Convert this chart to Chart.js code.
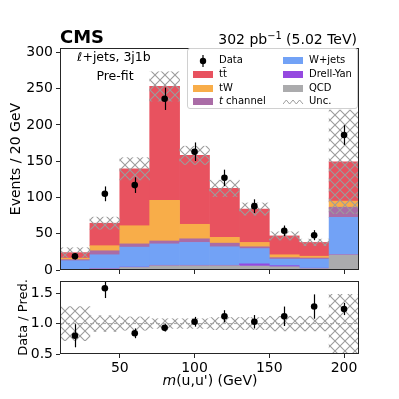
<!DOCTYPE html>
<html>
<head>
<meta charset="utf-8">
<script src="https://cdn.jsdelivr.net/npm/chart.js@4.4.0/dist/chart.umd.min.js"></script>
<style>
body { margin: 0; background: #fff; font-family: "DejaVu Sans", sans-serif; }
#wrap { position: relative; width: 399px; height: 399px; overflow: hidden; }
canvas { position: absolute; left: 0; }
.txt { position: absolute; white-space: nowrap; line-height: 1; color: #000; }
#legend { position: absolute; left: 187px; top: 48px; width: 171px; height: 61px;
  border: 1px solid #d0d0d0; border-radius: 3px; background: rgba(255,255,255,0.8); box-sizing: border-box; }
.lg { position: absolute; font-size: 10px; line-height: 1; white-space: nowrap; }
.patch { position: absolute; width: 20px; height: 7px; }
</style>
</head>
<body>
<div id="wrap">
  <canvas id="topChart" width="399" height="276" style="top:0"></canvas>
  <canvas id="botChart" width="399" height="123" style="top:276px"></canvas>

  <div class="txt" style="left:60px;top:28px;font-size:18px;font-weight:bold;">CMS</div>
  <div class="txt" style="right:42px;top:32px;font-size:14px;">302 pb<sup style="font-size:0.7em;vertical-align:0.55em;line-height:0">−1</sup> (5.02 TeV)</div>
  <div class="txt" style="left:64px;width:100px;text-align:center;top:51px;font-size:12.5px;">ℓ+jets, 3j1b</div>
  <div class="txt" style="left:65px;width:100px;text-align:center;top:69.5px;font-size:12.5px;">Pre-fit</div>
  <div class="txt" style="left:110px;width:200px;text-align:center;top:373px;font-size:14px;"><i>m</i>(u,u') (GeV)</div>

  <div id="legend"></div>
</div>

<script>
// bins of 20 GeV from 10 to 210 (last bin = overflow)
let binCenters = [20, 40, 60, 80, 100, 120, 140, 160, 180, 200];

// stacked predictions (events / bin), bottom to top
let qcd   = [0.5, 1.5, 3.5, 6, 6, 6, 5.5, 4.5, 2, 21];
let dy    = [0.3, 0.5, 0.5, 0.5, 0.5, 0.5, 3, 1.5, 0.5, 0.5];
let wjets = [12, 19, 27.5, 29.5, 31.5, 25.5, 21, 9, 12.5, 51];
let tch   = [1.5, 5.5, 4.5, 4, 5, 5, 2.5, 2, 1.5, 14];
let tw    = [2, 7, 25, 56, 20, 8, 6, 4, 2.5, 8.5];
let ttbar = [7.7, 31, 78.5, 157, 95, 67.5, 46, 26, 19, 54];

// relative uncertainty of the prediction
let uncRel = [0.28, 0.13, 0.11, 0.08, 0.08, 0.1, 0.1, 0.12, 0.12, 0.48];

// data
let dataVals = [19, 105, 117, 236, 163, 127, 88, 54, 48, 186];
let dataErr  = [4.4, 10.2, 10.8, 15.4, 12.8, 11.3, 9.4, 7.3, 6.9, 13.6];

// data / prediction
let ratioVals = [0.80, 1.58, 0.84, 0.93, 1.03, 1.12, 1.03, 1.12, 1.28, 1.24];
let ratioErr  = [0.19, 0.16, 0.08, 0.06, 0.08, 0.10, 0.11, 0.16, 0.20, 0.10];

let xTicks = [50, 100, 150, 200];
let yTopTicks = [0, 50, 100, 150, 200, 250, 300];
let yBotTicks = [0.5, 1.0, 1.5];

let colors = {
    qcd: '#ababad', dy: '#9549e0', wjets: '#72a2f6',
    tch: '#aa6ca6', tw: '#f8ad49', ttbar: '#e8525f'
};
let FONT = '"DejaVu Sans", sans-serif';

function makeHatch() {
    let c = document.createElement('canvas');
    c.width = 10; c.height = 10;
    let g = c.getContext('2d');
    g.strokeStyle = '#9c9c9c';
    g.lineWidth = 1.1;
    g.beginPath();
    g.moveTo(0, 0); g.lineTo(10, 10);
    g.moveTo(10, 0); g.lineTo(0, 10);
    g.stroke();
    return g.createPattern(c, 'repeat');
}
let hatch = makeHatch();

let toPoints = (arr) => binCenters.map((x, i) => ({ x: x, y: arr[i] }));

let totals = binCenters.map((x, i) => qcd[i] + dy[i] + wjets[i] + tch[i] + tw[i] + ttbar[i]);

// draws the frame round the plot area
let framePlugin = {
    id: 'frame',
    afterDraw(chart) {
        let a = chart.chartArea, ctx = chart.ctx;
        ctx.save();
        ctx.strokeStyle = '#262626';
        ctx.lineWidth = 1;
        ctx.strokeRect(Math.round(a.left) + 0.5, Math.round(a.top) + 0.5,
            Math.round(a.right - a.left) - 1, Math.round(a.bottom - a.top) - 1);
        ctx.restore();
    }
};

// vertical error bars for datasets having errorBars
let errBarPlugin = {
    id: 'errBars',
    afterDatasetsDraw(chart) {
        let ctx = chart.ctx, a = chart.chartArea;
        let xs = chart.scales.x, ys = chart.scales.y;
        ctx.save();
        ctx.beginPath();
        ctx.rect(a.left, a.top, a.right - a.left, a.bottom - a.top);
        ctx.clip();
        ctx.strokeStyle = '#000';
        ctx.lineWidth = 1.2;
        chart.data.datasets.forEach(ds => {
            if (!ds.errorBars) return;
            ds.data.forEach((p, i) => {
                let px = Math.round(xs.getPixelForValue(p.x)) + 0.5;
                ctx.beginPath();
                ctx.moveTo(px, ys.getPixelForValue(p.y - ds.errorBars[i]));
                ctx.lineTo(px, ys.getPixelForValue(p.y + ds.errorBars[i]));
                ctx.stroke();
            });
        });
        ctx.restore();
    }
};

// fixed axis sizes, no extra padding for edge labels
let fixX = (h) => (s) => { s.height = h; s.paddingLeft = 0; s.paddingRight = 0; };
let fixY = (w) => (s) => { s.width = w; s.paddingTop = 0; s.paddingBottom = 0; };

let barBase = { type: 'bar', grouped: false, barPercentage: 1, categoryPercentage: 1, borderWidth: 0, order: 2, stack: 'mc' };

let gridOpts = { display: true, drawOnChartArea: false, drawTicks: true, tickLength: 4, color: '#262626', offset: false };

let topChart = new Chart(document.getElementById('topChart'), {
    type: 'bar',
    data: {
        datasets: [
            { type: 'scatter', label: 'Data', data: toPoints(dataVals), errorBars: dataErr, stack: 'data',
              pointRadius: 3.3, pointBackgroundColor: '#000', pointBorderWidth: 0, order: 0 },
            { type: 'bar', label: 'Unc.', stack: 'unc', grouped: false, barPercentage: 1, categoryPercentage: 1,
              borderWidth: 0, backgroundColor: hatch, order: 1,
              data: binCenters.map((x, i) => ({ x: x, y: [totals[i] * (1 - uncRel[i]), totals[i] * (1 + uncRel[i])] })) },
            Object.assign({}, barBase, { label: 'QCD', data: toPoints(qcd), backgroundColor: colors.qcd }),
            Object.assign({}, barBase, { label: 'Drell-Yan', data: toPoints(dy), backgroundColor: colors.dy }),
            Object.assign({}, barBase, { label: 'W+jets', data: toPoints(wjets), backgroundColor: colors.wjets }),
            Object.assign({}, barBase, { label: 't channel', data: toPoints(tch), backgroundColor: colors.tch }),
            Object.assign({}, barBase, { label: 'tW', data: toPoints(tw), backgroundColor: colors.tw }),
            Object.assign({}, barBase, { label: 'tt', data: toPoints(ttbar), backgroundColor: colors.ttbar })
        ]
    },
    options: {
        responsive: false,
        animation: false,
        layout: { padding: { top: 48, right: 40, left: 0, bottom: 0 } },
        plugins: { legend: { display: false }, tooltip: { enabled: false } },
        scales: {
            x: {
                type: 'linear', min: 10, max: 210, offset: false,
                grid: gridOpts,
                border: { display: false },
                ticks: { callback: () => '', autoSkip: false, maxRotation: 0 },
                afterBuildTicks: s => { s.ticks = xTicks.map(v => ({ value: v })); },
                afterFit: fixX(6)
            },
            y: {
                stacked: true, min: 0, max: 306,
                grid: gridOpts,
                border: { display: false },
                ticks: { font: { size: 14, family: FONT }, color: '#000', padding: 3, autoSkip: false },
                afterBuildTicks: s => { s.ticks = yTopTicks.map(v => ({ value: v })); },
                afterFit: fixY(60),
                title: { display: true, text: 'Events / 20 GeV', color: '#000',
                         font: { size: 14, family: FONT }, padding: { top: 8, bottom: 0 } }
            }
        }
    },
    plugins: [framePlugin, errBarPlugin]
});

let botChart = new Chart(document.getElementById('botChart'), {
    type: 'bar',
    data: {
        datasets: [
            { type: 'scatter', label: 'Data', data: toPoints(ratioVals), errorBars: ratioErr, stack: 'data',
              pointRadius: 3.3, pointBackgroundColor: '#000', pointBorderWidth: 0, order: 0 },
            { type: 'line', label: 'one', data: [{ x: 10, y: 1 }, { x: 210, y: 1 }], stack: 'one',
              borderColor: '#a8a8a8', borderWidth: 1, borderDash: [4, 2], pointRadius: 0, order: 1 },
            { type: 'bar', label: 'Unc.', stack: 'unc', grouped: false, barPercentage: 1, categoryPercentage: 1,
              borderWidth: 0, backgroundColor: hatch, order: 2,
              data: binCenters.map((x, i) => ({ x: x, y: [1 - uncRel[i], 1 + uncRel[i]] })) }
        ]
    },
    options: {
        responsive: false,
        animation: false,
        layout: { padding: { top: 5, right: 40, left: 0, bottom: 0 } },
        plugins: { legend: { display: false }, tooltip: { enabled: false } },
        scales: {
            x: {
                type: 'linear', min: 10, max: 210, offset: false,
                grid: gridOpts,
                border: { display: false },
                ticks: { font: { size: 14, family: FONT }, color: '#000', padding: 2, autoSkip: false, maxRotation: 0 },
                afterBuildTicks: s => { s.ticks = xTicks.map(v => ({ value: v })); },
                afterFit: fixX(45)
            },
            y: {
                min: 0.5, max: 1.7,
                grid: gridOpts,
                border: { display: false },
                ticks: { font: { size: 14, family: FONT }, color: '#000', padding: 3, autoSkip: false,
                         callback: v => v.toFixed(1) },
                afterBuildTicks: s => { s.ticks = yBotTicks.map(v => ({ value: v })); },
                afterFit: fixY(60),
                title: { display: true, text: 'Data / Pred.', color: '#000',
                         font: { size: 13, family: FONT }, padding: { top: 16, bottom: 0 } }
            }
        }
    },
    plugins: [framePlugin, errBarPlugin]
});

// legend (two columns, inside the top panel)
let legendItems = [
    { kind: 'data', text: 'Data', col: 0, row: 0 },
    { kind: 'patch', color: colors.ttbar, text: 'tt̄', col: 0, row: 1 },
    { kind: 'patch', color: colors.tw, text: 'tW', col: 0, row: 2 },
    { kind: 'patch', color: colors.tch, text: '<i>t</i> channel', col: 0, row: 3 },
    { kind: 'patch', color: colors.wjets, text: 'W+jets', col: 1, row: 0 },
    { kind: 'patch', color: colors.dy, text: 'Drell-Yan', col: 1, row: 1 },
    { kind: 'patch', color: colors.qcd, text: 'QCD', col: 1, row: 2 },
    { kind: 'unc', text: 'Unc.', col: 1, row: 3 }
];
let legend = document.getElementById('legend');
let rowY = [11.5, 25, 39, 52.5];      // row centres inside the box
let colX = [5, 95];                    // marker left edge inside the box
legendItems.forEach(it => {
    let x0 = colX[it.col], yc = rowY[it.row];
    if (it.kind === 'patch') {
        let p = document.createElement('div');
        p.className = 'patch';
        p.style.left = x0 + 'px';
        p.style.top = (yc - 3.5) + 'px';
        p.style.background = it.color;
        legend.appendChild(p);
    } else {
        let svg = document.createElementNS('http://www.w3.org/2000/svg', 'svg');
        svg.setAttribute('width', 22); svg.setAttribute('height', 14);
        svg.style.position = 'absolute';
        svg.style.left = x0 + 'px';
        svg.style.top = (yc - 7) + 'px';
        if (it.kind === 'data') {
            svg.innerHTML = '<line x1="10" y1="1" x2="10" y2="13" stroke="#000" stroke-width="1.2"/>' +
                            '<circle cx="10" cy="7" r="3.2" fill="#000"/>';
        } else {
            svg.innerHTML = '<polyline points="0,9 3.3,5 6.6,9 10,5 13.3,9 16.6,5 20,9" fill="none" stroke="#9c9c9c" stroke-width="1"/>';
        }
        legend.appendChild(svg);
    }
    let t = document.createElement('div');
    t.className = 'lg';
    t.style.left = (x0 + 26) + 'px';
    t.style.top = (yc - 5.5) + 'px';
    t.innerHTML = it.text;
    legend.appendChild(t);
});
</script>
</body>
</html>
